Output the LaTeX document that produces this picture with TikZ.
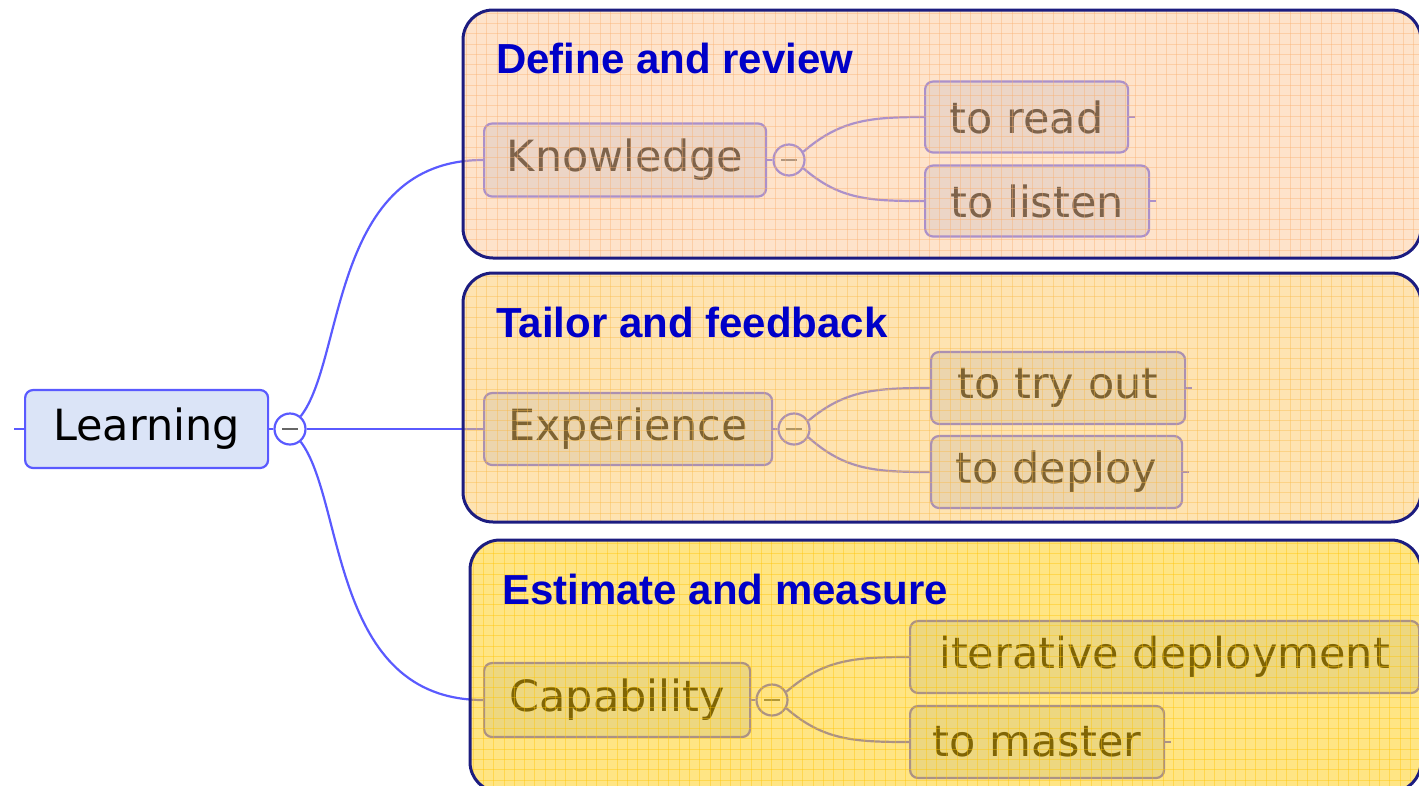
\documentclass[tikz,border=0pt]{standalone}
\usepackage{fontspec}
\setmainfont{DejaVu Sans}
\newfontfamily\titlefont{Liberation Sans}
\definecolor{nodeblue}{RGB}{219,228,247}
\definecolor{lineblue}{RGB}{90,90,255}
\definecolor{navy}{RGB}{28,28,128}
\definecolor{titleblue}{RGB}{0,0,200}
\definecolor{panA}{RGB}{253,199,150}
\definecolor{panB}{RGB}{253,199,100}
\definecolor{panC}{RGB}{255,203,10}
\definecolor{gridA}{RGB}{250,175,110}
\definecolor{gridB}{RGB}{250,185,70}
\definecolor{gridC}{RGB}{255,195,0}
\tikzset{
  mapnode/.style={draw=lineblue, line width=2.2pt, fill=nodeblue, rounded corners=8pt,
    anchor=west, inner xsep=18pt, inner ysep=0pt, font=\fontsize{43}{50}\selectfont, text=black},
  toggle/.style={circle, draw=lineblue, fill=white, line width=2.2pt, minimum size=31pt, inner sep=0pt},
  conn/.style={draw=lineblue, line width=2.2pt},
  panelfill/.style={fill opacity=0.5, rounded corners=30pt},
  panelborder/.style={draw=navy, line width=3pt, rounded corners=30pt},
  paneltitle/.style={anchor=base west, inner sep=0pt, text=titleblue, font=\titlefont\bfseries\fontsize{42}{48}\selectfont},
}
\newcommand{\minus}[1]{\draw[gray!80!black, line width=2.6pt] ([xshift=-8pt]#1.center) -- ([xshift=8pt]#1.center);}
\begin{document}
\begin{tikzpicture}[x=1pt,y=-1pt]
\useasboundingbox (0,0) rectangle (1419,785);
% nodes
\node[mapnode, minimum width=243pt, minimum height=78pt] (learn) at (24,429) {Learning};
\node[toggle] (c0) at (290,429) {};
\node[mapnode, minimum width=282pt, minimum height=73pt] (know) at (483,160) {Knowledge};
\node[toggle] (c1) at (789,160) {};
\node[mapnode, minimum width=203pt, minimum height=71pt] (read) at (924,117) {to read};
\node[mapnode, minimum width=224pt, minimum height=71pt] (listen) at (924,201) {to listen};
\node[mapnode, minimum width=288pt, minimum height=72pt] (exp) at (483,429) {Experience};
\node[toggle] (c2) at (794,429) {};
\node[mapnode, minimum width=254pt, minimum height=72pt] (try) at (930,388) {to try out};
\node[mapnode, minimum width=251pt, minimum height=72pt] (deploy) at (930,472) {to deploy};
\node[mapnode, minimum width=266pt, minimum height=74pt] (cap) at (483,700) {Capability};
\node[toggle] (c3) at (772,700) {};
\node[mapnode, minimum width=509pt, minimum height=72pt] (iter) at (909,657) {iterative deployment};
\node[mapnode, minimum width=254pt, minimum height=72pt] (master) at (909,742) {to master};
\foreach \c in {c0,c1,c2,c3} {\minus{\c}}
% stubs
\coordinate (s0) at (14,429);
\draw[conn] (s0) -- (learn.west);
\foreach \n in {read,listen,try,deploy,master} {\draw[conn] (\n.east) -- ++(6,0);}
\draw[conn] (learn.east) -- (c0.west);
\draw[conn] (know.east) -- (c1.west);
\draw[conn] (exp.east) -- (c2.west);
\draw[conn] (cap.east) -- (c3.west);
% branches
\draw[conn] (c0.50) .. controls (345,360) and (330,160) .. (know.west);
\draw[conn] (c0.east) -- (exp.west);
\draw[conn] (c0.-50) .. controls (345,500) and (330,700) .. (cap.west);
\draw[conn] (c1.30) .. controls (840,120) and (870,117) .. (read.west);
\draw[conn] (c1.-30) .. controls (840,200) and (870,201) .. (listen.west);
\draw[conn] (c2.30) .. controls (845,390) and (875,388) .. (try.west);
\draw[conn] (c2.-30) .. controls (845,470) and (875,472) .. (deploy.west);
\draw[conn] (c3.30) .. controls (823,660) and (853,657) .. (iter.west);
\draw[conn] (c3.-30) .. controls (823,740) and (853,742) .. (master.west);
% panels
\fill[panA, panelfill] (463,10) rectangle (1421,258);
\fill[panB, panelfill] (463,273) rectangle (1421,522);
\fill[panC, panelfill] (470,540) rectangle (1421,792);
\begin{scope}
\clip[rounded corners=30pt] (463,10) rectangle (1421,258);
\foreach \x in {466,476.3,...,1421} {\draw[gridA, line width=0.8pt, opacity=0.4] (\x,10) -- (\x,258);}
\foreach \y in {13,23.3,...,258} {\draw[gridA, line width=0.8pt, opacity=0.4] (463,\y) -- (1421,\y);}
\end{scope}
\begin{scope}
\clip[rounded corners=30pt] (463,273) rectangle (1421,522);
\foreach \x in {466,476.3,...,1421} {\draw[gridB, line width=0.8pt, opacity=0.4] (\x,273) -- (\x,522);}
\foreach \y in {276,286.3,...,522} {\draw[gridB, line width=0.8pt, opacity=0.4] (463,\y) -- (1421,\y);}
\end{scope}
\begin{scope}
\clip[rounded corners=30pt] (470,540) rectangle (1421,792);
\foreach \x in {473,483.3,...,1421} {\draw[gridC, line width=0.8pt, opacity=0.4] (\x,540) -- (\x,792);}
\foreach \y in {543,553.3,...,792} {\draw[gridC, line width=0.8pt, opacity=0.4] (470,\y) -- (1421,\y);}
\end{scope}
\draw[panelborder] (463,10) rectangle (1421,258);
\draw[panelborder] (463,273) rectangle (1421,522);
\draw[panelborder] (470,540) rectangle (1421,792);
\node[paneltitle] (t1) at (496,73) {Define and review};
\node[paneltitle] (t2) at (496,337) {Tailor and feedback};
\node[paneltitle] (t3) at (502,604) {Estimate and measure};
\end{tikzpicture}
\end{document}
